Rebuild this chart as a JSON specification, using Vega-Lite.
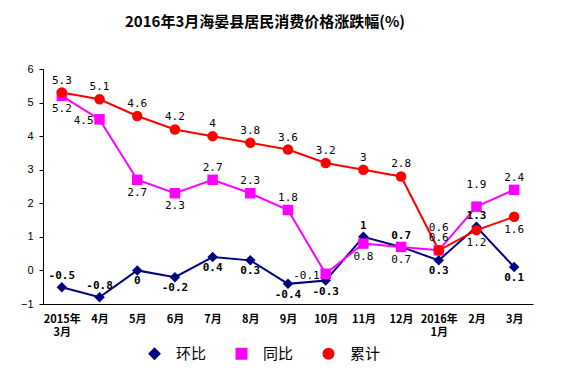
{
  "$schema": "https://vega.github.io/schema/vega-lite/v6.json",
  "width": 490,
  "height": 235,
  "autosize": {"type": "none"},
  "padding": {"left": 43, "top": 69, "right": 36, "bottom": 70},
  "background": "white",
  "title": {
    "text": "2016年3月海晏县居民消费价格涨跌幅(%)",
    "font": "Noto Sans CJK SC",
    "fontSize": 15,
    "fontWeight": "bold",
    "color": "black",
    "anchor": "middle",
    "dx": -23,
    "offset": 33
  },
  "config": {
    "view": {"stroke": null},
    "axis": {"grid": false, "domainColor": "black", "tickColor": "black", "labelColor": "black"}
  },
  "data": {
    "values": [
      {"m": "2015年3月", "s": "环比", "v": -0.5},
      {"m": "4月", "s": "环比", "v": -0.8},
      {"m": "5月", "s": "环比", "v": 0},
      {"m": "6月", "s": "环比", "v": -0.2},
      {"m": "7月", "s": "环比", "v": 0.4},
      {"m": "8月", "s": "环比", "v": 0.3},
      {"m": "9月", "s": "环比", "v": -0.4},
      {"m": "10月", "s": "环比", "v": -0.3},
      {"m": "11月", "s": "环比", "v": 1},
      {"m": "12月", "s": "环比", "v": 0.7},
      {"m": "2016年1月", "s": "环比", "v": 0.3},
      {"m": "2月", "s": "环比", "v": 1.3},
      {"m": "3月", "s": "环比", "v": 0.1},
      {"m": "2015年3月", "s": "同比", "v": 5.2},
      {"m": "4月", "s": "同比", "v": 4.5},
      {"m": "5月", "s": "同比", "v": 2.7},
      {"m": "6月", "s": "同比", "v": 2.3},
      {"m": "7月", "s": "同比", "v": 2.7},
      {"m": "8月", "s": "同比", "v": 2.3},
      {"m": "9月", "s": "同比", "v": 1.8},
      {"m": "10月", "s": "同比", "v": -0.1},
      {"m": "11月", "s": "同比", "v": 0.8},
      {"m": "12月", "s": "同比", "v": 0.7},
      {"m": "2016年1月", "s": "同比", "v": 0.6},
      {"m": "2月", "s": "同比", "v": 1.9},
      {"m": "3月", "s": "同比", "v": 2.4},
      {"m": "2015年3月", "s": "累计", "v": 5.3},
      {"m": "4月", "s": "累计", "v": 5.1},
      {"m": "5月", "s": "累计", "v": 4.6},
      {"m": "6月", "s": "累计", "v": 4.2},
      {"m": "7月", "s": "累计", "v": 4},
      {"m": "8月", "s": "累计", "v": 3.8},
      {"m": "9月", "s": "累计", "v": 3.6},
      {"m": "10月", "s": "累计", "v": 3.2},
      {"m": "11月", "s": "累计", "v": 3},
      {"m": "12月", "s": "累计", "v": 2.8},
      {"m": "2016年1月", "s": "累计", "v": 0.6},
      {"m": "2月", "s": "累计", "v": 1.2},
      {"m": "3月", "s": "累计", "v": 1.6}
    ]
  },
  "encoding": {
    "x": {
      "field": "m",
      "type": "ordinal",
      "sort": null,
      "title": null,
      "scale": {"type": "point", "padding": 0.5},
      "axis": {
        "labelAngle": 0,
        "ticks": false,
        "labelPadding": 9,
        "labelFont": "Noto Sans CJK SC",
        "labelFontSize": 11,
        "labelFontWeight": "bold",
        "labelExpr": "indexof(datum.value,'年')>0 ? [slice(datum.value,0,5), slice(datum.value,5)] : datum.value"
      }
    },
    "y": {
      "field": "v",
      "type": "quantitative",
      "title": null,
      "scale": {"domain": [-1, 6], "nice": false, "zero": false},
      "axis": {
        "values": [-1, 0, 1, 2, 3, 4, 5, 6],
        "tickSize": 4,
        "labelPadding": 6,
        "labelFont": "Liberation Sans",
        "labelFontSize": 11
      }
    }
  },
  "layer": [
    {
      "mark": {"type": "line", "strokeWidth": 2},
      "encoding": {
        "color": {
          "field": "s",
          "type": "nominal",
          "scale": {"domain": ["环比", "同比", "累计"], "range": ["#000080", "#FF00FF", "#FF0000"]},
          "legend": {
            "title": null,
            "orient": "none",
            "direction": "horizontal",
            "legendX": 104,
            "legendY": 277,
            "padding": 0,
            "symbolSize": 100,
            "symbolStrokeWidth": 2,
            "labelFont": "Noto Sans CJK SC",
            "labelFontSize": 15,
            "labelColor": "black",
            "labelOffset": 14,
            "columnPadding": 25
          }
        }
      }
    },
    {
      "mark": {"type": "point", "filled": true, "opacity": 1, "size": 110},
      "encoding": {
        "color": {"field": "s", "type": "nominal", "legend": null},
        "shape": {
          "field": "s",
          "type": "nominal",
          "scale": {"domain": ["环比", "同比", "累计"], "range": ["diamond", "square", "circle"]},
          "legend": null
        }
      }
    },
    {
      "transform": [{"filter": "datum.s=='环比' && indexof(['2015年3月','4月','11月','12月','2月'], datum.m) >= 0"}],
      "mark": {"type": "text", "font": "DejaVu Sans Mono", "fontSize": 11, "fontWeight": "bold", "color": "black", "baseline": "middle", "dy": -11},
      "encoding": {"text": {"field": "v", "type": "nominal"}}
    },
    {
      "transform": [{"filter": "datum.s=='环比' && indexof(['2015年3月','4月','11月','12月','2月'], datum.m) < 0"}],
      "mark": {"type": "text", "font": "DejaVu Sans Mono", "fontSize": 11, "fontWeight": "bold", "color": "black", "baseline": "middle", "dy": 11},
      "encoding": {"text": {"field": "v", "type": "nominal"}}
    },
    {
      "transform": [{"filter": "(datum.s=='同比' && indexof(['7月','8月','9月','3月'], datum.m) >= 0) || (datum.s=='累计' && indexof(['2月','3月'], datum.m) < 0)"}],
      "mark": {"type": "text", "font": "DejaVu Sans Mono", "fontSize": 11, "color": "black", "baseline": "middle", "dy": -12},
      "encoding": {"text": {"field": "v", "type": "nominal"}}
    },
    {
      "transform": [{"filter": "(datum.s=='同比' && indexof(['2015年3月','5月','6月','11月','12月'], datum.m) >= 0) || (datum.s=='累计' && indexof(['2月','3月'], datum.m) >= 0)"}],
      "mark": {"type": "text", "font": "DejaVu Sans Mono", "fontSize": 11, "color": "black", "baseline": "middle", "dy": 13},
      "encoding": {"text": {"field": "v", "type": "nominal"}}
    },
    {
      "transform": [{"filter": "datum.s=='同比' && indexof(['2016年1月','2月'], datum.m) >= 0"}],
      "mark": {"type": "text", "font": "DejaVu Sans Mono", "fontSize": 11, "color": "black", "baseline": "middle", "dy": -22},
      "encoding": {"text": {"field": "v", "type": "nominal"}}
    },
    {
      "transform": [{"filter": "datum.s=='同比' && indexof(['4月','10月'], datum.m) >= 0"}],
      "mark": {"type": "text", "font": "DejaVu Sans Mono", "fontSize": 11, "color": "black", "baseline": "middle", "align": "right", "dx": -6, "dy": 2},
      "encoding": {"text": {"field": "v", "type": "nominal"}}
    }
  ]
}
